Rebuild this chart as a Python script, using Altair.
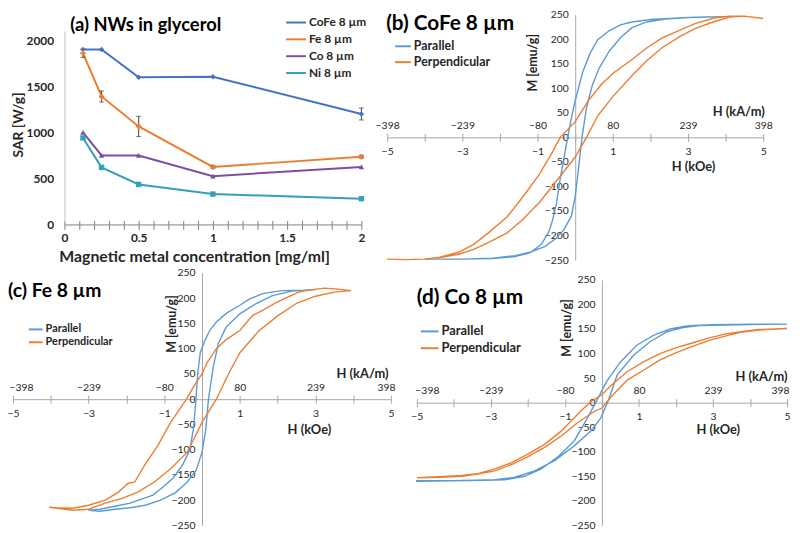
import altair as alt
import pandas as pd

FONT = "Lato"
W, H = 792, 525
AX = "#A6A6A6"
TXT = "#262626"

# ---------------- (a) SAR vs concentration ----------------
conc = [0.125, 0.25, 0.5, 1.0, 2.0]
sar_names = ["CoFe 8 µm", "Fe 8 µm", "Co 8 µm", "Ni 8 µm"]
sar_cofe = [1900, 1900, 1600, 1605, 1200]
sar_fe = [1860, 1390, 1065, 625, 735]
sar_co = [1000, 750, 750, 525, 625]
sar_ni = [940, 620, 435, 330, 280]
err_cofe = [0, 0, 0, 0, 65]
err_fe = [45, 60, 110, 15, 15]
sar_colors = ["#4472C4", "#ED7D31", "#7A4FA0", "#35A0B8"]
sar_shapes = ["diamond", "cross", "triangle-up", "square"]
conc_ticks = [round(i * 0.1, 1) for i in range(21)]

# ---------------- hysteresis loops (H in kOe, M in emu/g) ----------------
loop_names = ["Parallel", "Perpendicular"]
loop_colors = ["#5B9BD5", "#ED7D31"]
field_ticks = [-5, -4, -3, -2, -1, 0, 1, 2, 3, 4, 5]
m_ticks = [-250, -200, -150, -100, -50, 0, 50, 100, 150, 200, 250]

# (b) CoFe
b_par_desc_h = [4.0, 3.5, 3.0, 2.5, 2.0, 1.5, 1.2, 0.9, 0.6, 0.4, 0.2, 0.0, -0.1, -0.2, -0.3, -0.4, -0.5, -0.6, -0.7, -0.9, -1.2, -1.6, -2.2, -3.0, -4.0]
b_par_desc_m = [246, 245, 244, 242, 240, 235, 229, 217, 199, 172, 133, 75, 40, 0, -42, -85, -135, -168, -192, -218, -235, -243, -247, -248, -248]
b_par_asc_h = [-4.0, -3.0, -2.2, -1.6, -1.2, -0.8, -0.5, -0.3, -0.1, 0.0, 0.1, 0.18, 0.3, 0.45, 0.63, 0.9, 1.2, 1.5, 1.9, 2.4, 3.0, 3.5, 4.0]
b_par_asc_m = [-248, -248, -246, -241, -234, -222, -205, -188, -160, -120, -55, 0, 60, 105, 140, 175, 203, 223, 235, 241, 244, 245, 246]
b_per_desc_h = [5.0, 4.5, 4.1, 3.7, 3.2, 2.8, 2.3, 1.9, 1.5, 1.0, 0.7, 0.35, 0.0, -0.4, -0.6, -0.95, -1.4, -1.8, -2.3, -2.7, -3.1, -3.6, -4.0, -4.5, -5.0]
b_per_desc_m = [242, 247, 247, 243, 232, 219, 202, 182, 158, 130, 108, 75, 32, 0, -29, -75, -122, -161, -194, -218, -234, -244, -248, -249, -248]
b_per_asc_h = [-5.0, -4.5, -4.0, -3.6, -3.1, -2.7, -2.3, -1.8, -1.4, -0.95, -0.5, 0.0, 0.3, 0.6, 1.0, 1.5, 1.9, 2.3, 2.8, 3.2, 3.7, 4.1, 4.5, 5.0]
b_per_asc_m = [-248, -249, -248, -245, -238, -228, -214, -194, -168, -132, -89, -40, 0, 44, 83, 125, 156, 182, 206, 222, 236, 245, 247, 242]

# (c) Fe
c_par_desc_h = [3.0, 2.7, 2.1, 1.6, 1.25, 1.0, 0.64, 0.38, 0.21, 0.08, -0.05, -0.12, -0.16, -0.22, -0.32, -0.5, -0.75, -1.0, -1.3, -1.6, -1.9, -2.3, -2.7, -3.0]
c_par_desc_m = [217, 216, 215, 209, 198, 186, 170, 153, 137, 117, 91, 45, 0, -55, -100, -128, -155, -172, -190, -198, -206, -212, -218, -220]
c_par_asc_h = [-3.0, -2.7, -2.3, -1.9, -1.5, -1.1, -0.7, -0.4, -0.15, 0.0, 0.1, 0.17, 0.3, 0.43, 0.64, 1.0, 1.42, 1.86, 2.38, 3.0]
c_par_asc_m = [-220, -222, -218, -215, -210, -200, -185, -165, -140, -105, -60, 0, 65, 110, 143, 169, 189, 205, 214, 217]
c_per_desc_h = [3.94, 3.6, 3.25, 2.9, 2.55, 2.0, 1.6, 1.34, 1.0, 0.64, 0.38, 0.13, 0.0, -0.2, -0.41, -0.83, -1.17, -1.52, -1.78, -1.96, -2.21, -2.56, -3.0, -3.42, -3.86, -4.04]
c_per_desc_m = [215, 218, 220, 217, 212, 193, 176, 166, 136, 118, 100, 72, 50, 28, 0, -46, -92, -131, -164, -167, -184, -200, -210, -216, -215, -214]
c_per_asc_h = [-4.04, -3.42, -3.0, -2.56, -2.13, -1.7, -1.26, -0.83, -0.39, 0.0, 0.38, 0.7, 1.0, 1.5, 2.0, 2.5, 3.0, 3.5, 3.94]
c_per_asc_m = [-214, -220, -218, -206, -197, -184, -164, -138, -105, -46, 0, 50, 92, 135, 165, 190, 204, 212, 215]

# (d) Co
d_par_desc_h = [5.0, 4.0, 3.0, 2.5, 2.28, 1.84, 1.39, 0.94, 0.5, 0.14, -0.17, -0.39, -0.75, -1.2, -1.64, -2.09, -2.62, -3.2, -4.0, -5.0]
d_par_desc_m = [160, 160, 159, 157, 156, 150, 137, 117, 83, 45, 0, -31, -78, -111, -135, -150, -157, -158, -159, -159]
d_par_asc_h = [-5.0, -4.0, -2.9, -2.35, -1.82, -1.28, -0.75, -0.3, -0.03, 0.15, 0.41, 0.86, 1.3, 1.75, 2.19, 2.64, 3.35, 4.0, 5.0]
d_par_asc_m = [-160, -159, -157, -152, -139, -118, -88, -58, -31, 0, 56, 97, 124, 144, 153, 157, 158, 159, 160]
d_per_desc_h = [5.0, 4.24, 3.8, 3.35, 2.9, 2.46, 2.01, 1.57, 1.12, 0.68, 0.23, 0.0, -0.3, -0.57, -1.1, -1.55, -2.0, -2.44, -2.89, -3.33, -3.78, -4.4, -5.0]
d_per_desc_m = [151, 149, 145, 140, 132, 122, 112, 100, 83, 63, 34, 16, 2, -17, -58, -85, -105, -122, -135, -144, -148, -151, -153]
d_per_asc_h = [-5.0, -4.4, -3.78, -3.33, -2.89, -2.44, -2.0, -1.55, -1.1, -0.66, -0.21, 0.0, 0.25, 0.68, 1.12, 1.57, 2.01, 2.46, 2.9, 3.35, 3.8, 4.24, 5.0]
d_per_asc_m = [-153, -152, -150, -145, -139, -126, -110, -91, -68, -41, -18, -11, 12, 46, 66, 87, 102, 115, 127, 136, 144, 148, 151]

panel_titles = ["(a) NWs in glycerol", "(b) CoFe 8 µm", "(c) Fe 8 µm", "(d) Co 8 µm"]


# ---------------- tables ----------------
def sar_table():
    rows = []
    for name, vals in zip(sar_names, [sar_cofe, sar_fe, sar_co, sar_ni]):
        for c, v in zip(conc, vals):
            rows.append({"conc": c, "SAR": v, "series": name})
    return pd.DataFrame(rows)


def err_table():
    rows = []
    for vals, errs in [(sar_cofe, err_cofe), (sar_fe, err_fe)]:
        for c, v, e in zip(conc, vals, errs):
            if e > 0:
                rows.append({"conc": c, "lo": v - e, "hi": v + e})
    return pd.DataFrame(rows)


def loop_table(par, per):
    rows = []
    for name, (hd, md, ha, ma) in zip(loop_names, [par, per]):
        hs = hd + ha
        ms = md + ma
        for i, (h, m) in enumerate(zip(hs, ms)):
            rows.append({"H": h, "M": m, "series": name, "idx": i})
    return pd.DataFrame(rows)


# ---------------- panel (a) ----------------
dfA = sar_table()
dfE = err_table()
xA = alt.Scale(domain=[0, 2], range=[57, 357], nice=False, zero=False)
yA = alt.Scale(domain=[0, 2100], range=[216, 20.7], nice=False, zero=False)
a_y0, a_x0 = 216, 57

axA_x = alt.Axis(orient="bottom", offset=a_y0 - H, values=conc_ticks,
                 labelExpr="abs(datum.value*2 - round(datum.value*2)) < 0.001 ? format(datum.value, '~g') : ''",
                 labelOverlap=False, labelFlush=False, tickSize=5, tickColor="#808080",
                 domainColor="#808080", labelColor=TXT, labelFont=FONT, labelFontSize=12,
                 labelFontWeight="bold", labelPadding=3, grid=False,
                 title="Magnetic metal concentration [mg/ml]", titleFont=FONT, titleFontSize=16,
                 titleFontWeight="bold", titleColor=TXT, titleX=188, titleY=32,
                 titleAlign="center", titleBaseline="middle")
axA_top = alt.Axis(orient="top", offset=-a_y0, values=conc_ticks, labels=False, domain=False,
                   tickSize=4, tickColor="#808080", grid=False, title=None)
axA_y = alt.Axis(orient="left", offset=-a_x0, values=[0, 500, 1000, 1500, 2000], format="d",
                 ticks=False, tickSize=0, domainColor="#BFBFBF", labelColor=TXT, labelFont=FONT,
                 labelFontSize=12, labelFontWeight="bold", labelPadding=11, labelFlush=False,
                 grid=False, title="SAR [W/g]", titleFont=FONT, titleFontSize=14,
                 titleFontWeight="bold", titleColor=TXT, titleX=-46, titleY=115,
                 titleAlign="center", titleBaseline="middle")

colA = alt.Scale(domain=sar_names, range=sar_colors)
legA = alt.Legend(orient="none", legendX=280, legendY=1, title=None, symbolType="stroke",
                  symbolSize=400, symbolStrokeWidth=2, labelFont=FONT, labelFontSize=12,
                  labelFontWeight="bold", labelColor=TXT, labelOffset=2, rowPadding=0,
                  padding=0)

a_lines = alt.Chart(dfA).mark_line(strokeWidth=2).encode(
    x=alt.X("conc:Q", scale=xA, axis=axA_x),
    y=alt.Y("SAR:Q", scale=yA, axis=axA_y),
    color=alt.Color("series:N", scale=colA, legend=legA),
)
a_point_layers = []
for name, shp in zip(sar_names, sar_shapes):
    a_point_layers.append(
        alt.Chart(dfA).transform_filter(alt.datum.series == name)
        .mark_point(filled=True, size=30, opacity=1, shape=shp)
        .encode(
            x=alt.X("conc:Q", scale=xA, axis=None),
            y=alt.Y("SAR:Q", scale=yA, axis=None),
            color=alt.Color("series:N", scale=colA, legend=None),
        )
    )
a_err = alt.Chart(dfE).mark_rule(color="#404040", strokeWidth=1).encode(
    x=alt.X("conc:Q", scale=xA, axis=None),
    y=alt.Y("lo:Q", scale=yA, axis=None),
    y2="hi:Q",
)
a_cap_lo = alt.Chart(dfE).mark_tick(orient="horizontal", size=5, thickness=1, color="#404040").encode(
    x=alt.X("conc:Q", scale=xA, axis=None),
    y=alt.Y("lo:Q", scale=yA, axis=None),
)
a_cap_hi = alt.Chart(dfE).mark_tick(orient="horizontal", size=5, thickness=1, color="#404040").encode(
    x=alt.X("conc:Q", scale=xA, axis=None),
    y=alt.Y("hi:Q", scale=yA, axis=None),
)
a_ticks = alt.Chart(dfA).mark_point(opacity=0).encode(
    x=alt.X("conc:Q", scale=xA, axis=axA_top),
    y=alt.Y("SAR:Q", scale=yA, axis=None),
)
panelA = alt.layer(a_lines, a_err, a_cap_lo, a_cap_hi, *a_point_layers, a_ticks).resolve_axis(
    x="independent", y="independent")


# ---------------- hysteresis panels ----------------
def hyst_panel(df, xr, yr, kOe_pos, kam_pos, m_pos, leg_pos, leg_font, leg_sym, flush=False, flush_off=0):
    x0 = (xr[0] + xr[1]) / 2
    y0 = (yr[0] + yr[1]) / 2
    xs = alt.Scale(domain=[-5, 5], range=xr, nice=False, zero=False)
    ys = alt.Scale(domain=[-250, 250], range=yr, nice=False, zero=False)
    ax_koe = alt.Axis(orient="bottom", offset=y0 - H, values=field_ticks,
                      labelExpr="datum.value % 2 != 0 ? format(datum.value, 'd') : ''",
                      labelOverlap=False, labelFlush=False, tickSize=4, tickColor=AX,
                      domainColor=AX, labelColor=TXT, labelFont=FONT, labelFontSize=10.5,
                      labelPadding=5, grid=False, title="H (kOe)", titleFont=FONT,
                      titleFontSize=13, titleFontWeight="bold", titleColor=TXT,
                      titleX=kOe_pos[0], titleY=kOe_pos[1], titleAlign="center",
                      titleBaseline="middle")
    ax_kam = alt.Axis(orient="top", offset=-y0, values=field_ticks,
                      labelExpr="datum.value % 2 != 0 ? format(round(datum.value * 250 / PI), 'd') : ''",
                      labelOverlap=False, labelFlush=flush, labelFlushOffset=flush_off,
                      tickSize=4, tickColor=AX,
                      domain=False, labelColor=TXT, labelFont=FONT, labelFontSize=10.5,
                      labelPadding=3, grid=False, title="H (kA/m)", titleFont=FONT,
                      titleFontSize=13, titleFontWeight="bold", titleColor=TXT,
                      titleX=kam_pos[0], titleY=kam_pos[1], titleAlign="right",
                      titleBaseline="middle")
    ax_m = alt.Axis(orient="left", offset=-x0, values=m_ticks, ticks=False, tickSize=0,
                    domainColor=AX, labelColor=TXT, labelFont=FONT, labelFontSize=10.5,
                    labelPadding=7, labelFlush=False, labelOverlap=False, grid=False,
                    title="M [emu/g]", titleFont=FONT, titleFontSize=12.5,
                    titleFontWeight="bold", titleColor=TXT, titleX=m_pos[0], titleY=m_pos[1],
                    titleAlign="center", titleBaseline="middle")
    leg = alt.Legend(orient="none", legendX=leg_pos[0], legendY=leg_pos[1], title=None,
                     symbolType="stroke", symbolSize=leg_sym * leg_sym, symbolStrokeWidth=2,
                     labelFont=FONT, labelFontSize=leg_font, labelFontWeight="bold",
                     labelColor=TXT, labelOffset=2, rowPadding=0, padding=0)
    lines = alt.Chart(df).mark_line(strokeWidth=1.4).encode(
        x=alt.X("H:Q", scale=xs, axis=ax_koe),
        y=alt.Y("M:Q", scale=ys, axis=ax_m),
        color=alt.Color("series:N", scale=alt.Scale(domain=loop_names, range=loop_colors), legend=leg),
        order=alt.Order("idx:Q"),
    )
    top = alt.Chart(df).mark_point(opacity=0).encode(
        x=alt.X("H:Q", scale=xs, axis=ax_kam),
        y=alt.Y("M:Q", scale=ys, axis=None),
    )
    return alt.layer(lines, top).resolve_axis(x="independent", y="independent")


dfB = loop_table((b_par_desc_h, b_par_desc_m, b_par_asc_h, b_par_asc_m),
                 (b_per_desc_h, b_per_desc_m, b_per_asc_h, b_per_asc_m))
dfC = loop_table((c_par_desc_h, c_par_desc_m, c_par_asc_h, c_par_asc_m),
                 (c_per_desc_h, c_per_desc_m, c_per_asc_h, c_per_asc_m))
dfD = loop_table((d_par_desc_h, d_par_desc_m, d_par_asc_h, d_par_asc_m),
                 (d_per_desc_h, d_per_desc_m, d_per_asc_h, d_per_asc_m))

panelB = hyst_panel(dfB, [383, 763], [252, 4], (692, 29), (764, -26), (-43, 52), (390, 27), 12.5, 16)
panelC = hyst_panel(dfC, [5, 387], [520, 265], (304, 31), (384, -26), (-31, 316), (20, 314), 11, 14,
                    flush=True, flush_off=4)
panelD = hyst_panel(dfD, [413, 787], [520, 272], (717, 27), (787, -26), (-36, 320), (416, 314), 13, 18,
                    flush=True, flush_off=2)

# ---------------- panel titles ----------------
title_pos = [(63, 15), (382, 14), (0, 283), (413, 290)]
title_size = [18.5, 21, 19.5, 21]
title_layers = []
for t, (tx, ty), fs in zip(panel_titles, title_pos, title_size):
    title_layers.append(
        alt.Chart(pd.DataFrame({"label": [t]})).mark_text(
            align="left", baseline="middle", font=FONT, fontSize=fs, fontWeight="bold",
            color="black").encode(text="label:N", x=alt.value(tx), y=alt.value(ty))
    )

chart = alt.layer(panelA, panelB, panelC, panelD, *title_layers).resolve_scale(
    x="independent", y="independent", color="independent"
).properties(
    width=W, height=H, padding=0, autosize=alt.AutoSizeParams(type="none")
).configure_view(stroke=None)

chart.save("out.html", embed_options={"renderer": "svg", "actions": False})
